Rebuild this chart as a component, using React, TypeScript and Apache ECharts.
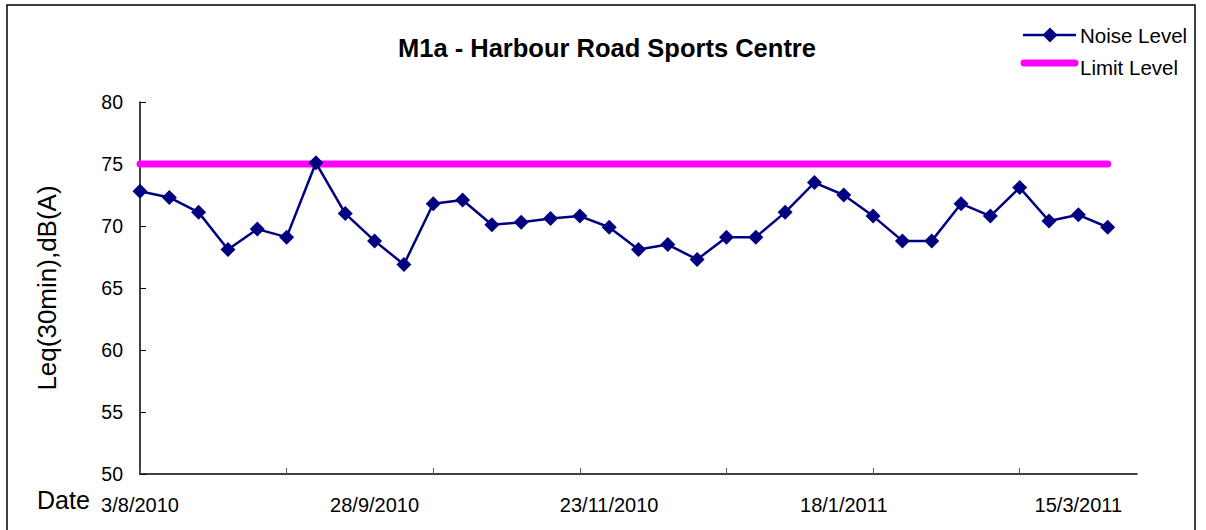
import React, { useEffect, useRef } from "react";
import * as echarts from "echarts";

const dates = [
  "3/8/2010", "10/8/2010", "17/8/2010", "24/8/2010", "31/8/2010", "7/9/2010", "14/9/2010",
  "21/9/2010", "28/9/2010", "5/10/2010", "12/10/2010", "19/10/2010", "26/10/2010", "2/11/2010",
  "9/11/2010", "16/11/2010", "23/11/2010", "30/11/2010", "7/12/2010", "14/12/2010", "21/12/2010",
  "28/12/2010", "4/1/2011", "11/1/2011", "18/1/2011", "25/1/2011", "1/2/2011", "8/2/2011",
  "15/2/2011", "22/2/2011", "1/3/2011", "8/3/2011", "15/3/2011", "22/3/2011", "29/3/2011",
];

const noiseLevel = [
  72.8, 72.3, 71.1, 68.1, 69.75, 69.1, 75.1, 71.0, 68.8, 66.9,
  71.8, 72.1, 70.1, 70.3, 70.6, 70.8, 69.9, 68.1, 68.5, 67.3,
  69.1, 69.1, 71.1, 73.5, 72.5, 70.8, 68.8, 68.8, 71.8, 70.8,
  73.1, 70.4, 70.9, 69.9,
];

const limitLevel = [
  75, 75, 75, 75, 75, 75, 75, 75, 75, 75,
  75, 75, 75, 75, 75, 75, 75, 75, 75, 75,
  75, 75, 75, 75, 75, 75, 75, 75, 75, 75,
  75, 75, 75, 75,
];

const yTicks = { min: 50, max: 80, interval: 5 };

const FONT = "'Liberation Sans', Arial, sans-serif";
const NAVY = "#000080";
const MAGENTA = "#FF00FF";

export default function App() {
  const ref = useRef<HTMLDivElement>(null);
  useEffect(() => {
    if (!ref.current) return;
    const chart = echarts.init(ref.current, undefined, { renderer: "svg" });
    chart.setOption({
      animation: false,
      backgroundColor: "#ffffff",
      textStyle: { fontFamily: FONT, color: "#000" },
      title: {
        text: "M1a - Harbour Road Sports Centre",
        left: 393,
        top: 30,
        textStyle: { fontFamily: FONT, fontSize: 25.5, fontWeight: "bold", color: "#000" },
      },
      legend: { show: false },
      grid: { left: 140, right: 69, top: 102, bottom: 56, containLabel: false },
      xAxis: {
        type: "category",
        data: dates,
        boundaryGap: false,
        axisLine: { lineStyle: { color: "#000", width: 1.5 } },
        axisTick: { inside: true, length: 6, interval: 4, lineStyle: { color: "#555" } },
        axisLabel: { interval: 7, fontSize: 20, margin: 21, color: "#000", fontFamily: FONT },
        splitLine: { show: false },
      },
      yAxis: {
        type: "value",
        min: yTicks.min,
        max: yTicks.max,
        interval: yTicks.interval,
        name: "Leq(30min),dB(A)",
        nameLocation: "middle",
        nameGap: 80,
        nameRotate: 90,
        nameTextStyle: { fontFamily: FONT, fontSize: 26, color: "#000" },
        axisLine: { show: true, lineStyle: { color: "#000", width: 1.5 } },
        axisTick: { show: true, inside: true, length: 6, lineStyle: { color: "#000" } },
        axisLabel: { fontSize: 19.5, margin: 17, color: "#000", fontFamily: FONT },
        splitLine: { show: false },
      },
      graphic: [
        {
          type: "rect",
          shape: { x: 7, y: 5, width: 1188, height: 540 },
          style: { fill: "none", stroke: "#000", lineWidth: 1.5 },
          silent: true,
        },
        {
          type: "text",
          left: 37,
          top: 487,
          style: { text: "Date", font: `25px ${FONT}`, fill: "#000" },
        },
        {
          type: "line",
          shape: { x1: 1023, y1: 35, x2: 1076, y2: 35 },
          style: { stroke: NAVY, lineWidth: 2.5 },
        },
        {
          type: "polygon",
          shape: { points: [[1050, 27.5], [1057.5, 35], [1050, 42.5], [1042.5, 35]] },
          style: { fill: NAVY },
        },
        {
          type: "text",
          x: 1080,
          y: 35,
          style: { text: "Noise Level", font: `20.5px ${FONT}`, fill: "#000", textVerticalAlign: "middle" },
        },
        {
          type: "line",
          shape: { x1: 1024, y1: 63, x2: 1075, y2: 63 },
          style: { stroke: MAGENTA, lineWidth: 7, lineCap: "round" },
        },
        {
          type: "text",
          x: 1080,
          y: 67,
          style: { text: "Limit Level", font: `20.5px ${FONT}`, fill: "#000", textVerticalAlign: "middle" },
        },
      ],
      series: [
        {
          name: "Limit Level",
          type: "line",
          data: limitLevel,
          symbol: "none",
          lineStyle: { color: MAGENTA, width: 7, cap: "round" },
          itemStyle: { color: MAGENTA },
          z: 2,
        },
        {
          name: "Noise Level",
          type: "line",
          data: noiseLevel,
          symbol: "diamond",
          symbolSize: 15,
          showAllSymbol: true,
          lineStyle: { color: NAVY, width: 2.5 },
          itemStyle: { color: NAVY },
          z: 3,
        },
      ],
    });
    return () => chart.dispose();
  }, []);
  return (
    <div
      ref={ref}
      style={{ position: "absolute", left: 0, top: 0, width: 1206, height: 530 }}
    />
  );
}
